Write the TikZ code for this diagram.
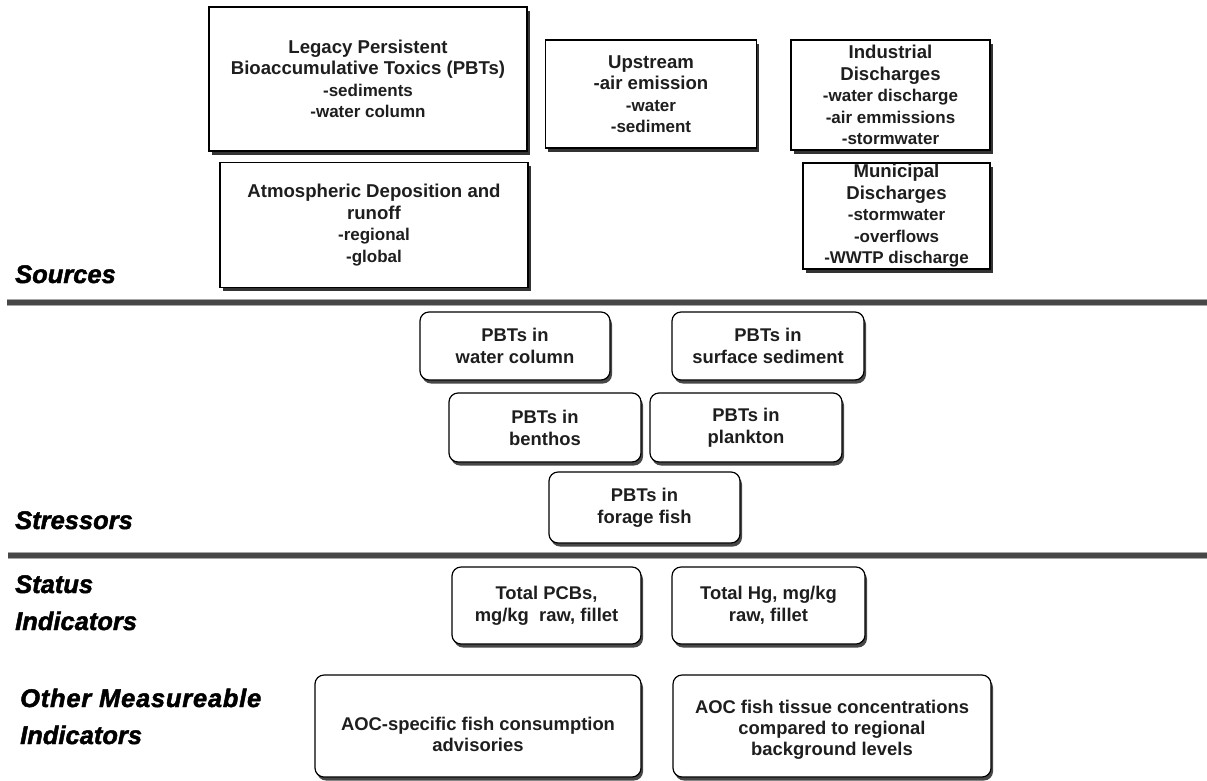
\documentclass[tikz,border=0pt]{standalone}
\usepackage{fontspec}
\setmainfont{Liberation Sans}
\newfontfamily\labelfont{Liberation Sans}[BoldItalicFeatures={FakeBold=1.8}]
\usetikzlibrary{shadows}
\definecolor{rulegray}{HTML}{474747}
\definecolor{inkgray}{HTML}{1E1E1E}
\newcommand\subline{\fontsize{17}{21}\selectfont}
\begin{document}
\begin{tikzpicture}[x=1pt,y=-1pt,
  srcbox/.style={draw=black, line width=1.3pt, fill=white, inner sep=0pt,
    align=center, text=inkgray,
    font=\fontsize{18.6}{21.5}\selectfont\bfseries,
    general shadow={fill=black!80, shadow xshift=2.5pt, shadow yshift=-3.5pt}},
  pbtbox/.style={draw=black, line width=1.2pt, fill=white, inner sep=0pt,
    rounded corners=9pt, align=center, text=inkgray,
    font=\fontsize{18.4}{22}\selectfont\bfseries,
    general shadow={fill=black!72, shadow xshift=2pt, shadow yshift=-3.5pt}},
  boxtext/.style={inner sep=0pt, align=center, text=inkgray,
    font=\fontsize{18.4}{21}\selectfont\bfseries},
  seclabel/.style={inner sep=0pt, anchor=base west, text=black,
    font=\labelfont\fontsize{25.5}{29}\selectfont\bfseries\itshape},
  sectionrule/.style={line width=4.5pt, rulegray,
    preaction={draw=black!35, line width=7pt}}
]
\useasboundingbox (0,0) rectangle (1207,780);

% ---------- Sources ----------
\node[srcbox, minimum width=318pt, minimum height=144pt] (legacy) at (368,79)
  {Legacy Persistent\\Bioaccumulative Toxics (PBTs)\\\subline -sediments\\\subline -water column};
\node[srcbox, minimum width=308pt, minimum height=125pt] (atmos) at (374,225)
  {Atmospheric Deposition and\\runoff\\\subline -regional\\\subline -global};
\node[srcbox, minimum width=211pt, minimum height=108pt] (upstream) at (651,94)
  {Upstream\\-air emission\\\subline -water\\\subline -sediment};
\node[srcbox, minimum width=199pt, minimum height=110pt] (industrial) at (890.5,95)
  {Industrial\\Discharges\\\subline -water discharge\\\subline -air emmissions\\\subline -stormwater};
\node[srcbox, minimum width=187pt, minimum height=106pt] (municipal) at (896.5,216)
  {Municipal\\Discharges\\\subline -stormwater\\\subline -overflows\\\subline -WWTP discharge};

\node[seclabel] (lsources) at (15,283) {Sources};

\coordinate (r1w) at (7,302.5);
\coordinate (r1e) at (1207,302.5);
\draw[sectionrule] (r1w) -- (r1e);

% ---------- Stressors ----------
\node[pbtbox, minimum width=190pt, minimum height=68pt] (water) at (515,346)
  {PBTs in\\water column};
\node[pbtbox, minimum width=192pt, minimum height=68pt] (sediment) at (768,346)
  {PBTs in\\surface sediment};
\node[pbtbox, minimum width=192pt, minimum height=69pt] (benthos) at (545,427.5)
  {PBTs in\\benthos};
\node[pbtbox, minimum width=192pt, minimum height=69pt] (plankton) at (746,427.5)
  {PBTs in\\plankton};
\node[pbtbox, minimum width=191pt, minimum height=71pt] (forage) at (644.5,507.5)
  {PBTs in\\forage fish};

\node[seclabel] (lstress) at (15,529) {Stressors};

\coordinate (r2w) at (8,555.5);
\coordinate (r2e) at (1207,555.5);
\draw[sectionrule] (r2w) -- (r2e);

% ---------- Status indicators ----------
\node[pbtbox, minimum width=189pt, minimum height=77pt] (pcb) at (546.5,605.5)
  {Total PCBs,\\mg/kg\ \ raw, fillet};
\node[pbtbox, minimum width=193pt, minimum height=77pt] (hg) at (768.5,605.5)
  {Total Hg, mg/kg\\raw, fillet};

\node[seclabel] (lstat1) at (15,593) {Status};
\node[seclabel] (lstat2) at (15,630) {Indicators};

% ---------- Other measureable indicators ----------
\node[pbtbox, minimum width=326pt, minimum height=102pt] (advis) at (478,726) {};
\node[boxtext] (advistext) at (478,734) {AOC-specific fish consumption\\advisories};
\node[pbtbox, minimum width=318pt, minimum height=102pt] (tissue) at (832,726) {};
\node[boxtext] (tissuetext) at (832,730) {AOC fish tissue concentrations\\compared to regional\\background levels};

\node[seclabel] (lother1) at (20,707) {\addfontfeature{LetterSpace=3}Other Measureable};
\node[seclabel] (lother2) at (20,744) {Indicators};
\end{tikzpicture}
\end{document}
